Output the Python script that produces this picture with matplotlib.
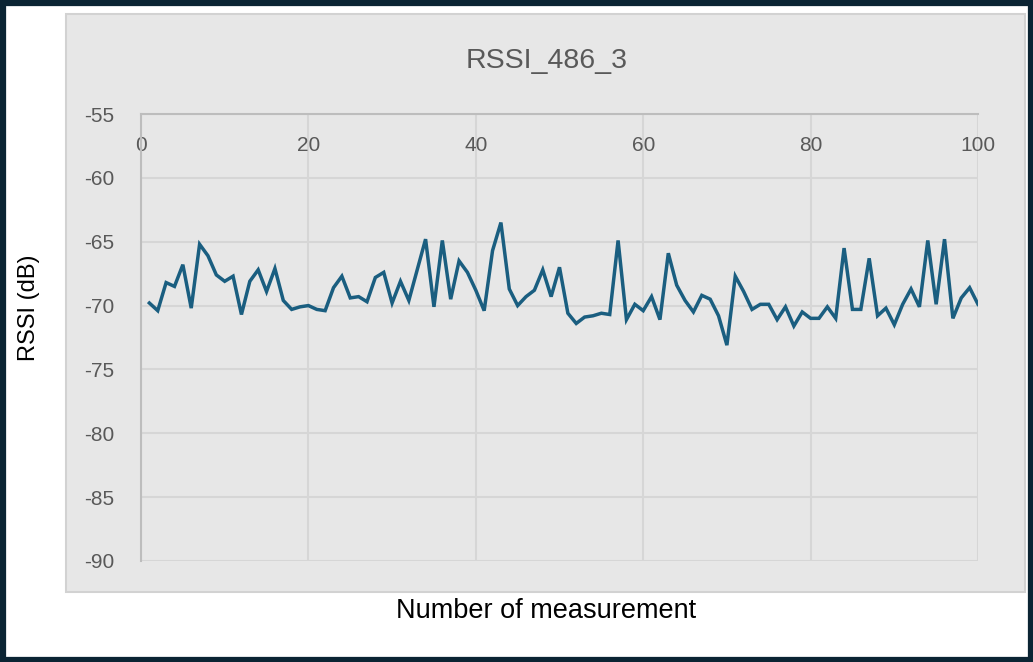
import matplotlib
matplotlib.use("Agg")
import matplotlib.pyplot as plt
from matplotlib.patches import Rectangle

plt.rcParams['font.family'] = ['Liberation Sans', 'DejaVu Sans']
plt.rcParams['axes.unicode_minus'] = False

# measurement number 1..100
measurement = list(range(1, 101))
rssi = [
    -69.8, -70.4, -68.2, -68.5, -66.8, -70.2, -65.2, -66.1, -67.6, -68.1,
    -67.7, -70.7, -68.1, -67.2, -68.9, -67.1, -69.6, -70.3, -70.1, -70.0,
    -70.3, -70.4, -68.6, -67.7, -69.4, -69.3, -69.7, -67.8, -67.4, -69.8,
    -68.1, -69.6, -67.2, -64.8, -70.1, -64.9, -69.5, -66.5, -67.4, -68.8,
    -70.4, -65.7, -63.5, -68.7, -70.0, -69.3, -68.8, -67.2, -69.3, -67.0,
    -70.6, -71.4, -70.9, -70.8, -70.6, -70.7, -64.9, -71.1, -69.9, -70.4,
    -69.3, -71.1, -65.9, -68.4, -69.6, -70.5, -69.2, -69.5, -70.8, -73.1,
    -67.7, -68.9, -70.3, -69.9, -69.9, -71.1, -70.1, -71.6, -70.5, -71.0,
    -71.0, -70.1, -71.0, -65.5, -70.3, -70.3, -66.3, -70.8, -70.2, -71.5,
    -69.9, -68.7, -70.1, -64.9, -69.9, -64.8, -71.0, -69.4, -68.6, -69.9,
]
x_ticks = [0, 20, 40, 60, 80, 100]
y_ticks = [-90, -85, -80, -75, -70, -65, -60, -55]

W, H = 1033, 662
fig = plt.figure(figsize=(W / 100, H / 100), dpi=100)
fig.patch.set_facecolor('white')

# dark outer frame and the grey chart area (behind the axes)
fig.patches.append(Rectangle((2.5 / W, 2.5 / H), (W - 5) / W, (H - 5) / H,
                             transform=fig.transFigure, fill=False, zorder=-2,
                             edgecolor='#0b2433', linewidth=4.5))
fig.patches.append(Rectangle((66 / W, (H - 592) / H), (1025 - 66) / W, (592 - 14) / H,
                             transform=fig.transFigure, facecolor='#e7e7e7', zorder=-1,
                             edgecolor='#d2d2d2', linewidth=1.5))

ax = fig.add_axes([141 / W, (H - 561) / H, (978 - 141) / W, (561 - 114) / H])
ax.set_facecolor('none')

ax.plot(measurement, rssi, color='#1a5e80', linewidth=2.5, solid_joinstyle='miter')

ax.set_xlim(0, 100)
ax.set_ylim(-90, -55)
ax.set_xticks(x_ticks)
ax.set_yticks(y_ticks)
ax.grid(True, color='#d6d6d6', linewidth=1.5)
ax.set_axisbelow(True)

for side in ['right', 'bottom']:
    ax.spines[side].set_visible(False)
for side in ['left', 'top']:
    ax.spines[side].set_color('#bdbdbd')
    ax.spines[side].set_linewidth(1.5)

# x labels sit just under the top axis line
ax.tick_params(axis='x', bottom=False, top=False, labelbottom=False, labeltop=True,
               pad=-33, labelsize=15, labelcolor='#595959')
ax.tick_params(axis='y', left=False, pad=16, labelsize=15, labelcolor='#595959')

fig.text(547 / W, 1 - 61 / H, 'RSSI_486_3', ha='center', va='center',
         fontsize=20.5, color='#595959')
ax.set_ylabel('RSSI (dB)', fontsize=17, color='black')
ax.yaxis.set_label_coords((40 - 141) / 837, (561 - 308) / 447)
ax.set_xlabel('Number of measurement', fontsize=19.5, color='black')
ax.xaxis.set_label_coords((546 - 141) / 837, (561 - 598) / 447)

fig.savefig('out.png', dpi=100)
